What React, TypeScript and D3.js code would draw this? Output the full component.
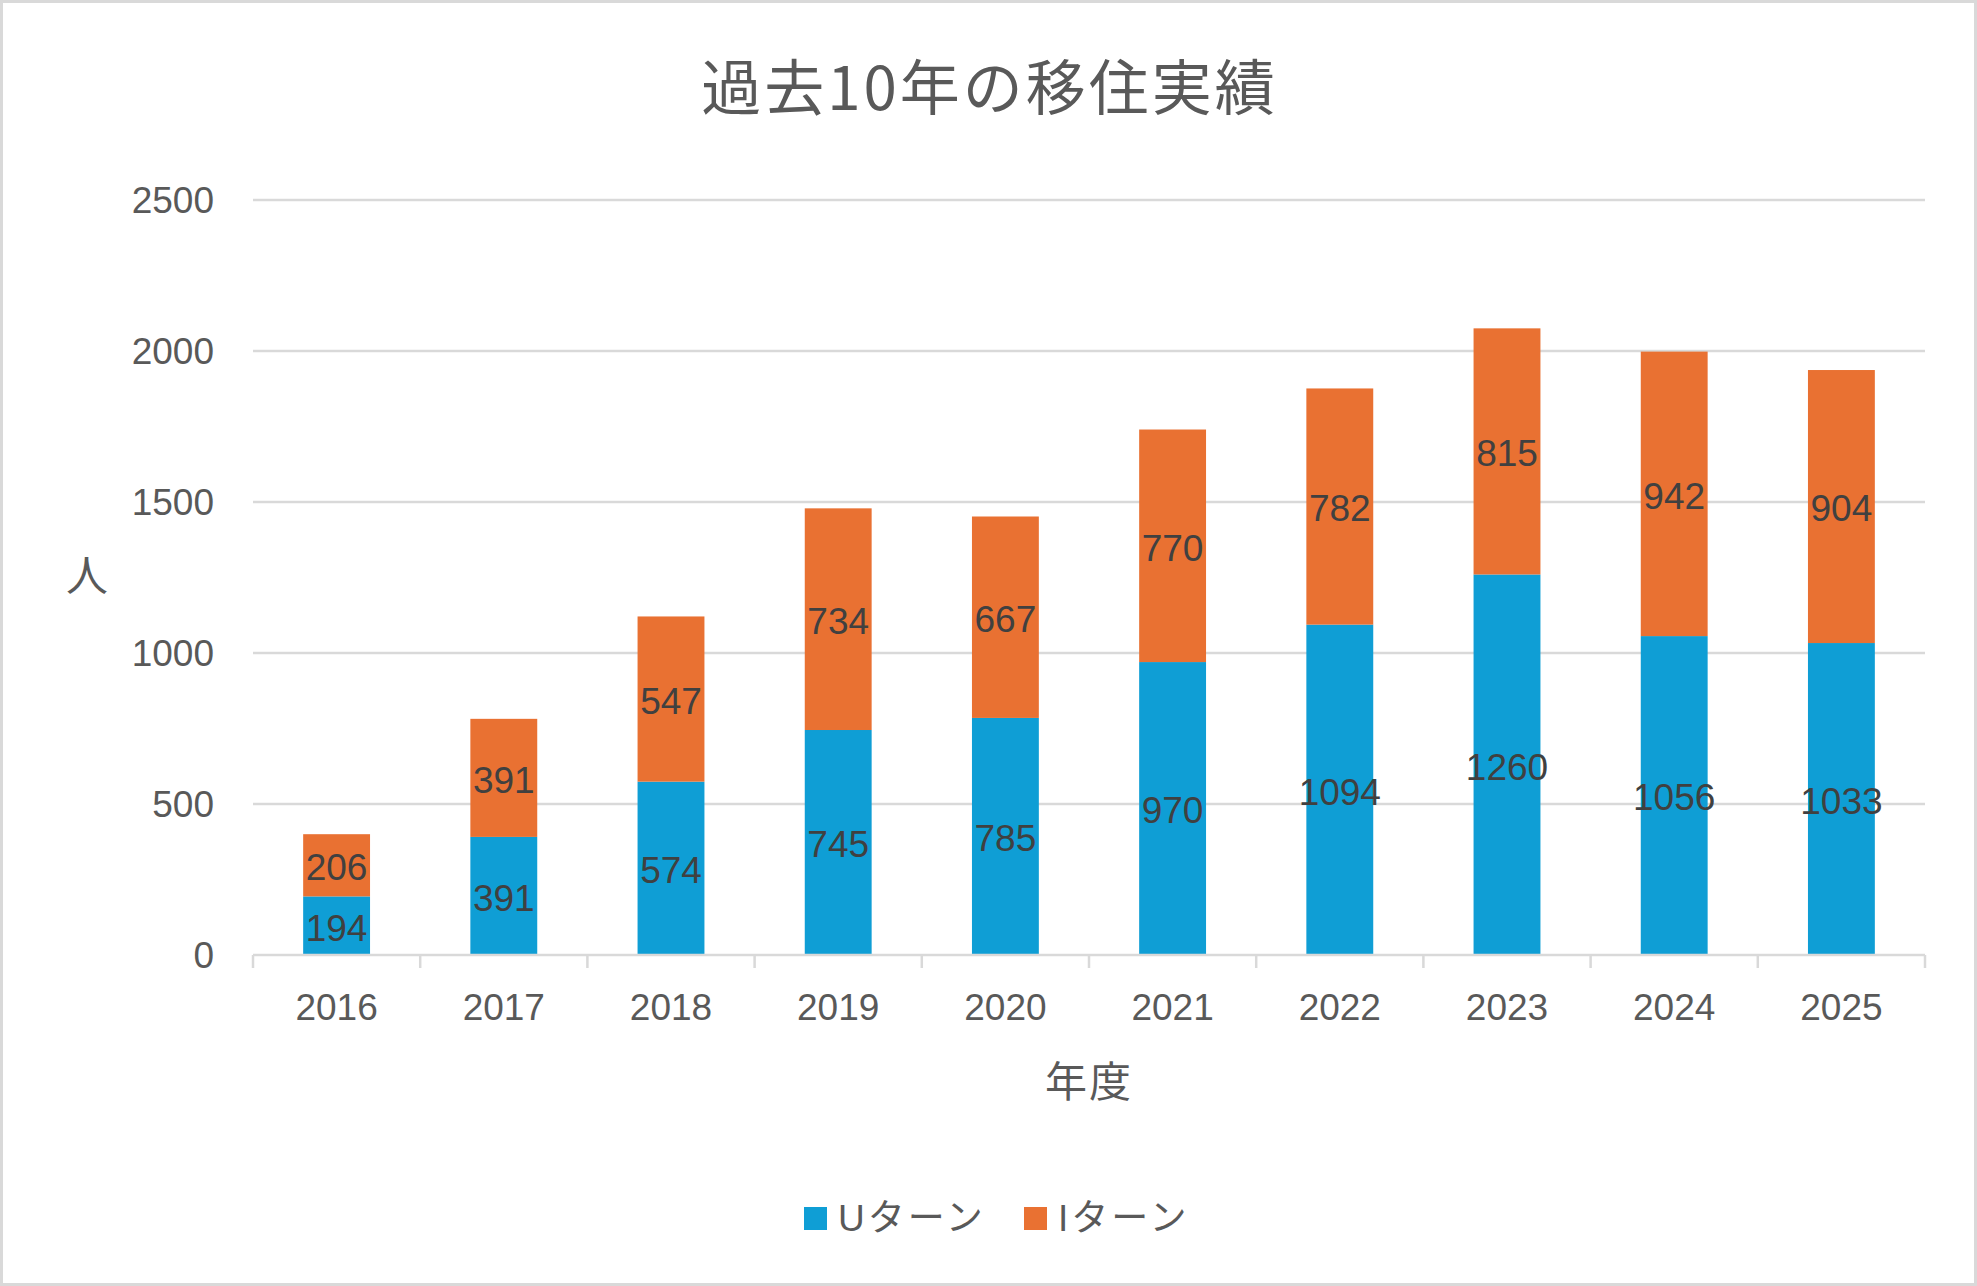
import React, { useEffect, useRef } from 'react';
import * as d3 from 'd3';

const years = ['2016', '2017', '2018', '2019', '2020', '2021', '2022', '2023', '2024', '2025'];
const uTurn = [194, 391, 574, 745, 785, 970, 1094, 1260, 1056, 1033];
const iTurn = [206, 391, 547, 734, 667, 770, 782, 815, 942, 904];
const seriesNames = ['Uターン', 'Iターン'];
const seriesColors = ['#0F9ED5', '#E97132'];
const yTicks = [0, 500, 1000, 1500, 2000, 2500];

const title = '過去10年の移住実績';
const xTitle = '年度';
const yTitle = '人';

const W = 1977;
const H = 1286;
const margin = { top: 200, right: 52, bottom: 331, left: 253 };
const NUM_FONT = "'Liberation Sans', Arial, 'Noto Sans CJK JP', sans-serif";
const JP_FONT = "'Noto Sans CJK JP', 'Liberation Sans', sans-serif";

const App: React.FC = () => {
  const svgRef = useRef<SVGSVGElement>(null);

  useEffect(() => {
    const svg = d3.select(svgRef.current);
    svg.selectAll('*').remove();

    const x0 = margin.left;
    const x1 = W - margin.right;
    const y0 = H - margin.bottom;
    const y1 = margin.top;

    const x = d3.scaleBand<string>().domain(years).range([x0, x1]).padding(0);
    const y = d3.scaleLinear().domain([0, 2500]).range([y0, y1]);
    const barW = x.bandwidth() / 2.5;

    // background + border
    svg.append('rect')
      .attr('x', 1.5).attr('y', 1.5)
      .attr('width', W - 3).attr('height', H - 3)
      .attr('fill', '#ffffff')
      .attr('stroke', '#D9D9D9')
      .attr('stroke-width', 3);

    // title
    svg.append('text')
      .attr('x', W / 2 + 1)
      .attr('y', 89)
      .attr('dy', '0.35em')
      .attr('text-anchor', 'middle')
      .style('font-family', JP_FONT)
      .style('font-size', '60px')
      .style('letter-spacing', '3px')
      .style('fill', '#595959')
      .text(title);

    // gridlines
    svg.append('g')
      .selectAll('line')
      .data(yTicks.filter(t => t > 0))
      .enter()
      .append('line')
      .attr('x1', x0).attr('x2', x1)
      .attr('y1', d => y(d)).attr('y2', d => y(d))
      .attr('stroke', '#D9D9D9')
      .attr('stroke-width', 2.5);

    // y labels
    svg.append('g')
      .selectAll('text')
      .data(yTicks)
      .enter()
      .append('text')
      .attr('x', 214)
      .attr('y', d => y(d))
      .attr('dy', '0.35em')
      .attr('text-anchor', 'end')
      .style('font-family', NUM_FONT)
      .style('font-size', '37px')
      .style('fill', '#595959')
      .text(d => d);

    // stacked bars
    const stackData = years.map((yr, i) => ({ year: yr, u: uTurn[i], i: iTurn[i] }));
    const stack = d3.stack<any>().keys(['u', 'i'])(stackData);

    stack.forEach((layer, si) => {
      const g = svg.append('g');
      g.selectAll('rect')
        .data(layer)
        .enter()
        .append('rect')
        .attr('x', d => x(d.data.year)! + (x.bandwidth() - barW) / 2)
        .attr('y', d => y(d[1]))
        .attr('width', barW)
        .attr('height', d => y(d[0]) - y(d[1]))
        .attr('fill', seriesColors[si]);

      g.selectAll('text')
        .data(layer)
        .enter()
        .append('text')
        .attr('x', d => x(d.data.year)! + x.bandwidth() / 2)
        .attr('y', d => (y(d[0]) + y(d[1])) / 2 + 2)
        .attr('dy', '0.35em')
        .attr('text-anchor', 'middle')
        .style('font-family', NUM_FONT)
        .style('font-size', '37px')
        .style('fill', '#404040')
        .text(d => d[1] - d[0]);
    });

    // x axis line + ticks
    const axis = svg.append('g');
    axis.append('line')
      .attr('x1', x0).attr('x2', x1)
      .attr('y1', y0).attr('y2', y0)
      .attr('stroke', '#D9D9D9')
      .attr('stroke-width', 2.5);
    const tickPos = years.map(yr => x(yr)!).concat([x1]);
    axis.selectAll('line.tick')
      .data(tickPos)
      .enter()
      .append('line')
      .attr('class', 'tick')
      .attr('x1', d => d).attr('x2', d => d)
      .attr('y1', y0).attr('y2', y0 + 13)
      .attr('stroke', '#D9D9D9')
      .attr('stroke-width', 2.5);

    // x labels
    svg.append('g')
      .selectAll('text')
      .data(years)
      .enter()
      .append('text')
      .attr('x', d => x(d)! + x.bandwidth() / 2)
      .attr('y', 1007)
      .attr('dy', '0.35em')
      .attr('text-anchor', 'middle')
      .style('font-family', NUM_FONT)
      .style('font-size', '37px')
      .style('fill', '#595959')
      .text(d => d);

    // axis titles
    svg.append('text')
      .attr('x', (x0 + x1) / 2)
      .attr('y', 1082)
      .attr('dy', '0.35em')
      .attr('text-anchor', 'middle')
      .style('font-family', JP_FONT)
      .style('font-size', '42px')
      .style('letter-spacing', '2px')
      .style('fill', '#595959')
      .text(xTitle);

    svg.append('text')
      .attr('x', 87)
      .attr('y', 576)
      .attr('dy', '0.35em')
      .attr('text-anchor', 'middle')
      .style('font-family', JP_FONT)
      .style('font-size', '42px')
      .style('fill', '#595959')
      .text(yTitle);

    // legend
    const legendX = [804, 1024];
    const legend = svg.append('g');
    seriesNames.forEach((name, i) => {
      legend.append('rect')
        .attr('x', legendX[i])
        .attr('y', 1207)
        .attr('width', 23)
        .attr('height', 23)
        .attr('fill', seriesColors[i]);
      legend.append('text')
        .attr('x', legendX[i] + 34)
        .attr('y', 1218)
        .attr('dy', '0.35em')
        .style('font-family', NUM_FONT)
        .style('font-size', '37px')
        .style('letter-spacing', '3px')
        .style('fill', '#595959')
        .text(name);
    });
  }, []);

  return (
    <svg
      ref={svgRef}
      width={W}
      height={H}
      style={{ position: 'absolute', left: 0, top: 0, display: 'block' }}
    />
  );
};

export default App;
